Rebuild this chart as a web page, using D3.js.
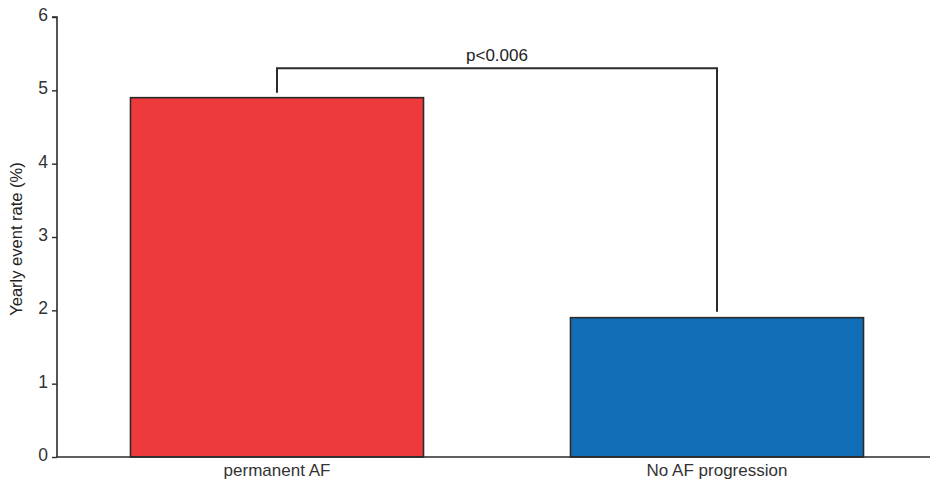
<!DOCTYPE html>
<html><head><meta charset="utf-8">
<script src="https://cdn.jsdelivr.net/npm/d3@7"></script>
<style>body{margin:0;background:#fff;} text{font-family:"Liberation Sans",Arial,sans-serif;}</style>
</head><body>
<svg id="c" width="933" height="481"></svg>
<script>
const categories = ["permanent AF", "No AF progression"];
const values = [4.9, 1.9];
const colors = ["#EE393D", "#116DB6"];
const yTicks = [0, 1, 2, 3, 4, 5, 6];
const pLabel = "p<0.006";
const bracketLevel = 5.3;
const yTitle = "Yearly event rate (%)";

const svg = d3.select("#c");
const x0 = 57, x1 = 937, yTop = 17, yBot = 457;
const x = d3.scaleBand().domain(categories).range([x0, x1]).paddingInner(0.334).paddingOuter(0.167);
const y = d3.scaleLinear().domain([0, 6]).range([yBot, yTop]);
const ink = "#2b2b2b";

// bars
svg.selectAll("rect.bar").data(values).enter().append("rect")
  .attr("x", (d, i) => x(categories[i]))
  .attr("y", d => y(d))
  .attr("width", x.bandwidth())
  .attr("height", d => y(0) - y(d))
  .attr("fill", (d, i) => colors[i])
  .attr("stroke", ink).attr("stroke-width", 1.6);

// y axis
const ya = svg.append("g").attr("transform", `translate(${x0},0)`)
  .call(d3.axisLeft(y).tickValues(yTicks).tickSize(5).tickPadding(4).tickFormat(d3.format("d")));
ya.select(".domain").attr("stroke", ink).attr("stroke-width", 1.6).attr("d", `M-5,${yTop}H0V${yBot}`);
ya.selectAll(".tick line").attr("stroke", ink).attr("stroke-width", 1.4);
ya.selectAll(".tick text").attr("font-size", 17.5).attr("fill", "#333").attr("font-family", "Liberation Sans, Arial")
  .attr("dy", "0.2em");

// x axis
svg.append("line").attr("x1", x0).attr("x2", 930).attr("y1", yBot).attr("y2", yBot)
  .attr("stroke", ink).attr("stroke-width", 1.6);
svg.selectAll("text.cat").data(categories).enter().append("text")
  .attr("x", d => x(d) + x.bandwidth() / 2).attr("y", 476)
  .attr("text-anchor", "middle").attr("font-size", 17).attr("fill", "#333").text(d => d);

// y title
svg.append("text").attr("transform", `translate(22,${(yTop + yBot) / 2 + 2}) rotate(-90)`)
  .attr("text-anchor", "middle").attr("font-size", 16.5).attr("fill", "#222").text(yTitle);

// significance bracket
const cx1 = x(categories[0]) + x.bandwidth() / 2, cx2 = x(categories[1]) + x.bandwidth() / 2;
const by = y(bracketLevel);
svg.append("path")
  .attr("d", `M${cx1},${y(values[0]) - 5}V${by}H${cx2}V${y(values[1]) - 6}`)
  .attr("fill", "none").attr("stroke", ink).attr("stroke-width", 2);
svg.append("text").attr("x", (cx1 + cx2) / 2).attr("y", 61).attr("text-anchor", "middle")
  .attr("font-size", 17).attr("fill", "#222").text(pLabel);
</script>
</body></html>
